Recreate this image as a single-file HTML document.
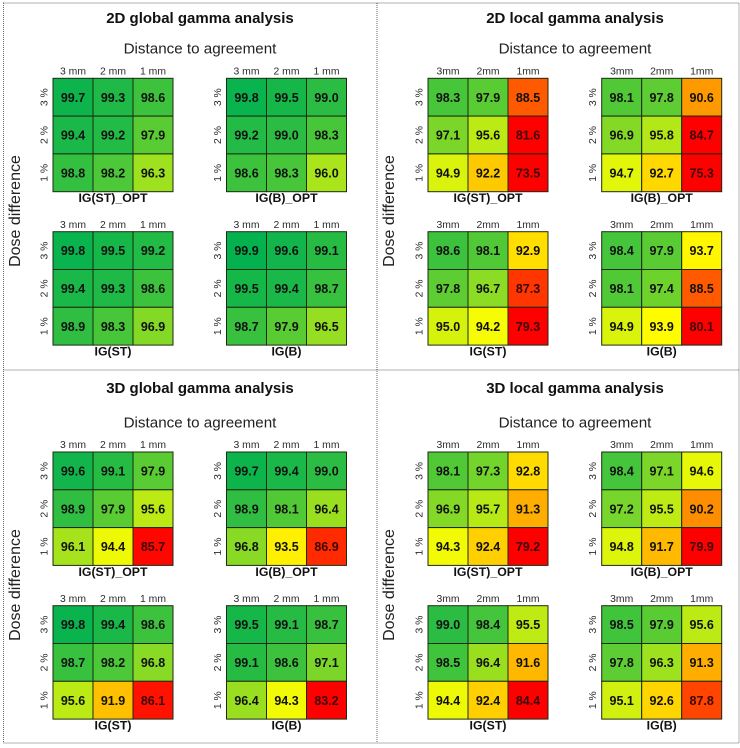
<!DOCTYPE html>
<html lang="en">
<head>
<meta charset="utf-8">
<title>Gamma analysis heatmaps</title>
<style>
html,body{margin:0;padding:0;background:#fff;width:740px;height:748px;overflow:hidden}
svg{display:block;font-family:"Liberation Sans",Arial,sans-serif}
</style>
</head>
<body>
<svg id="chart" width="740" height="748" viewBox="0 0 740 748" xmlns="http://www.w3.org/2000/svg"></svg>
<script>
const panelTitles = ["2D global gamma analysis", "2D local gamma analysis", "3D global gamma analysis", "3D local gamma analysis"];
const mapCaptions = ["IG(ST)_OPT", "IG(B)_OPT", "IG(ST)", "IG(B)"];
const distanceLabelsSpaced = ["3 mm", "2 mm", "1 mm"];
const distanceLabelsTight = ["3mm", "2mm", "1mm"];
const doseLabels = ["3 %", "2 %", "1 %"];

const global2dStOpt = [[99.7,99.3,98.6],[99.4,99.2,97.9],[98.8,98.2,96.3]];
const global2dBOpt  = [[99.8,99.5,99.0],[99.2,99.0,98.3],[98.6,98.3,96.0]];
const global2dSt    = [[99.8,99.5,99.2],[99.4,99.3,98.6],[98.9,98.3,96.9]];
const global2dB     = [[99.9,99.6,99.1],[99.5,99.4,98.7],[98.7,97.9,96.5]];

const local2dStOpt = [[98.3,97.9,88.5],[97.1,95.6,81.6],[94.9,92.2,73.5]];
const local2dBOpt  = [[98.1,97.8,90.6],[96.9,95.8,84.7],[94.7,92.7,75.3]];
const local2dSt    = [[98.6,98.1,92.9],[97.8,96.7,87.3],[95.0,94.2,79.3]];
const local2dB     = [[98.4,97.9,93.7],[98.1,97.4,88.5],[94.9,93.9,80.1]];

const global3dStOpt = [[99.6,99.1,97.9],[98.9,97.9,95.6],[96.1,94.4,85.7]];
const global3dBOpt  = [[99.7,99.4,99.0],[98.9,98.1,96.4],[96.8,93.5,86.9]];
const global3dSt    = [[99.8,99.4,98.6],[98.7,98.2,96.8],[95.6,91.9,86.1]];
const global3dB     = [[99.5,99.1,98.7],[99.1,98.6,97.1],[96.4,94.3,83.2]];

const local3dStOpt = [[98.1,97.3,92.8],[96.9,95.7,91.3],[94.3,92.4,79.2]];
const local3dBOpt  = [[98.4,97.1,94.6],[97.2,95.5,90.2],[94.8,91.7,79.9]];
const local3dSt    = [[99.0,98.4,95.5],[98.5,96.4,91.6],[94.4,92.4,84.4]];
const local3dB     = [[98.5,97.9,95.6],[97.8,96.3,91.3],[95.1,92.6,87.8]];

const panelValues = [
  [global2dStOpt, global2dBOpt, global2dSt, global2dB],
  [local2dStOpt, local2dBOpt, local2dSt, local2dB],
  [global3dStOpt, global3dBOpt, global3dSt, global3dB],
  [local3dStOpt, local3dBOpt, local3dSt, local3dB]
];

const NS = "http://www.w3.org/2000/svg";
const svg = document.getElementById("chart");
const CELL_W = 40, CELL_H = 37.8;

function slug(s){ return s.toLowerCase().replace(/[^a-z0-9]+/g, "-").replace(/^-|-$/g, ""); }

function mix(a, b, t){ return Math.round(a + (b - a) * t); }

/* three-colour scale: green at 100, yellow at 94, red at 85.5 */
function colorFor(v){
  let r, g, b;
  if (v >= 94){
    const t = Math.min(1, (100 - v) / 6);
    r = mix(0, 255, t); g = mix(176, 255, t); b = mix(80, 0, t);
  } else {
    const t = Math.min(1, (94 - v) / 8.5);
    r = 255; g = mix(255, 0, t); b = 0;
  }
  return "rgb(" + r + "," + g + "," + b + ")";
}

function shape(tag, parent, attrs){
  const el = document.createElementNS(NS, tag);
  for (const k in attrs) el.setAttribute(k, attrs[k]);
  parent.appendChild(el);
  return el;
}

function label(parent, str, x, y, size, weight, fill, rot){
  const el = shape("text", parent, {x: x, y: y, "font-size": size, "font-weight": weight, fill: fill, "text-anchor": "middle"});
  if (rot) el.setAttribute("transform", "rotate(-90 " + x + " " + y + ")");
  el.textContent = str;
  return el;
}

function panelLeft(col){ return col === 0 ? 3.5 : 377; }
function panelTop(row){ return row === 0 ? 3 : 370; }
function mapX(panelCol, mapCol){ return (panelCol === 0 ? 53 : 428) + mapCol * (panelCol === 0 ? 173.5 : 173.7); }
function mapY(panelRow, mapRow){ return (panelRow === 0 ? 78.3 : 452) + mapRow * (panelRow === 0 ? 153.4 : 153.7); }

function drawMap(parent, values, x0, y0, caption, topLabels){
  const g = shape("g", parent, {});
  
  

  topLabels.forEach(function(t, c){
    const el = label(g, t, x0 + (c + 0.5) * CELL_W, y0 - 3.8, 10.4, "normal", "#2b2b2b", false);
    
    
  });

  doseLabels.forEach(function(t, r){
    const el = label(g, t, x0 - 5.5, y0 + (r + 0.5) * CELL_H, 10.4, "normal", "#2b2b2b", true);
    
    
  });

  values.forEach(function(row, r){
    row.forEach(function(v, c){
      const x = x0 + c * CELL_W, y = y0 + r * CELL_H;
      const cell = shape("rect", g, {x: x, y: y, width: CELL_W, height: CELL_H, fill: colorFor(v), stroke: "#1c2a12", "stroke-width": 1});
      
      
      const txt = label(g, v.toFixed(1), x + CELL_W / 2, y + CELL_H / 2 + 4.6, 12.5, "bold", v < 88 ? "#3a0808" : "#111", false);
      
      
    });
  });

  const cap = label(g, caption, x0 + CELL_W * 1.5, y0 + 3 * CELL_H + 10.5, 12.3, "bold", "#111", false);
  
  
}

function drawPanel(idx){
  const col = idx % 2, row = idx < 2 ? 0 : 1;
  const g = shape("g", svg, {});
  
  

  const cx = col === 0 ? 200 : 575;
  const titleY = row === 0 ? 23 : 393;
  const distY = row === 0 ? 53.5 : 427.5;

  const title = label(g, panelTitles[idx], cx, titleY, 15, "bold", "#111", false);
  
  

  const dist = label(g, "Distance to agreement", cx, distY, 15.2, "normal", "#222", false);
  
  

  const doseX = col === 0 ? 20 : 394;
  const doseY = row === 0 ? 211 : 585;
  const dose = label(g, "Dose difference", doseX, doseY, 16, "normal", "#222", true);
  
  

  const topLabels = col === 0 ? distanceLabelsSpaced : distanceLabelsTight;
  panelValues[idx].forEach(function(vals, m){
    drawMap(g, vals, mapX(col, m % 2), mapY(row, m < 2 ? 0 : 1), mapCaptions[m], topLabels);
  });
}

const frameStyle = {fill: "none", stroke: "#666", "stroke-width": 1, "stroke-dasharray": "1 1"};
const frame = shape("rect", svg, Object.assign({x: panelLeft(0), y: panelTop(0), width: 735.5, height: 740}, frameStyle));


const divV = shape("line", svg, Object.assign({x1: panelLeft(1), y1: 3, x2: panelLeft(1), y2: 743}, frameStyle));


const divH = shape("line", svg, Object.assign({x1: 3.5, y1: panelTop(1), x2: 739, y2: panelTop(1)}, frameStyle));



panelTitles.forEach(function(_, i){ drawPanel(i); });
</script>
</body>
</html>
